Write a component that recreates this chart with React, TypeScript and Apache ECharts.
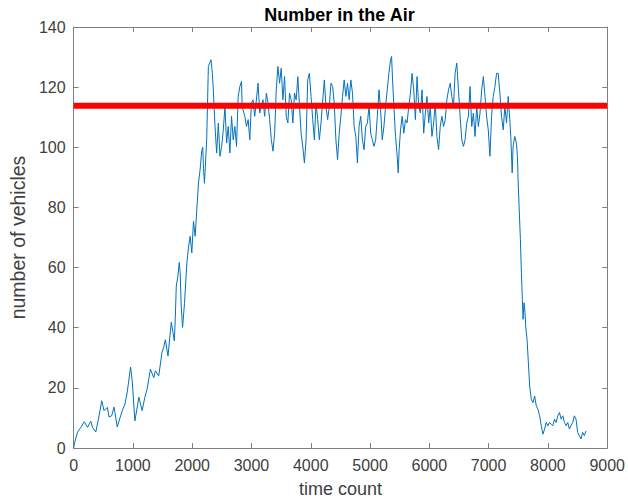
import React, { useEffect, useRef } from "react";
import * as echarts from "echarts";

// Simulation log: aircraft airborne at each time count
const timeCount = [
  0, 20, 67, 123, 179, 235, 290, 318, 374, 419, 475, 514, 570, 598, 642, 682, 737, 776, 821, 866,
  905, 961, 990, 1034, 1101, 1156, 1201, 1240, 1296, 1352, 1380, 1436, 1491, 1520, 1547, 1592, 1648, 1680, 1699, 1715,
  1732, 1760, 1782, 1798, 1815, 1838, 1870, 1911, 1940, 1966, 1994, 2022, 2050, 2078, 2106, 2134, 2162, 2179, 2190, 2207,
  2218, 2245, 2273, 2318, 2340, 2357, 2385, 2413, 2441, 2469, 2497, 2525, 2553, 2581, 2608, 2636, 2664, 2692, 2720, 2748,
  2776, 2804, 2832, 2843, 2888, 2916, 2944, 2972, 2999, 3027, 3055, 3111, 3139, 3167, 3195, 3223, 3251, 3279, 3307, 3335,
  3363, 3391, 3418, 3446, 3474, 3502, 3530, 3558, 3586, 3614, 3642, 3670, 3698, 3726, 3754, 3782, 3810, 3837, 3865, 3893,
  3921, 3949, 3977, 4005, 4033, 4061, 4089, 4117, 4145, 4173, 4229, 4257, 4285, 4313, 4341, 4369, 4396, 4424, 4452, 4480,
  4508, 4536, 4564, 4592, 4620, 4648, 4676, 4704, 4732, 4760, 4787, 4815, 4843, 4871, 4899, 4927, 4955, 4983, 5011, 5039,
  5067, 5095, 5123, 5151, 5178, 5206, 5234, 5262, 5290, 5318, 5346, 5363, 5380, 5402, 5430, 5458, 5475, 5491, 5514, 5542,
  5570, 5597, 5625, 5653, 5681, 5709, 5737, 5765, 5793, 5821, 5849, 5877, 5905, 5933, 5961, 5989, 6016, 6044, 6072, 6100,
  6128, 6156, 6184, 6212, 6240, 6268, 6296, 6324, 6352, 6379, 6407, 6435, 6463, 6491, 6519, 6547, 6575, 6603, 6631, 6659,
  6687, 6715, 6743, 6771, 6799, 6827, 6855, 6883, 6911, 6939, 6966, 6994, 7022, 7050, 7078, 7106, 7134, 7162, 7190, 7218,
  7246, 7274, 7302, 7330, 7357, 7374, 7397, 7413, 7441, 7469, 7486, 7497, 7514, 7536, 7553, 7569, 7581, 7597, 7614, 7625,
  7648, 7664, 7692, 7720, 7748, 7776, 7804, 7832, 7860, 7888, 7916, 7944, 7972, 8000, 8027, 8055, 8083, 8111, 8139, 8167,
  8195, 8223, 8251, 8279, 8307, 8334, 8362, 8390, 8418, 8446, 8474, 8502, 8530, 8558, 8586, 8614, 8642,
];

const vehiclesInAir = [
  0, 2, 5.3, 6.9, 8.7, 6.9, 8.9, 6.9, 5.3, 9.6, 15.7, 12.4, 13.5, 10.3, 10.7, 13.6, 7, 9.6, 12.4, 14.6,
  18.6, 26.9, 22, 9, 16.9, 12.4, 16.8, 19.6, 26.2, 23.4, 25.7, 24, 31.8, 33.5, 36, 30.6, 41.8, 38, 35.6, 43,
  53.9, 57.2, 61.7, 58.3, 47.2, 40.1, 48, 61.7, 67.1, 70.4, 64.9, 75.4, 70.4, 79.3, 88.1, 92.6, 99, 100, 93, 88,
  92, 102.5, 126.9, 129.1, 124.6, 119.1, 106.9, 98.1, 108, 97, 100.3, 105.8, 113.6, 101.4, 106.9, 98.1, 110.3, 102.5, 106.9, 100.3,
  116.9, 120.2, 121.9, 113.6, 110.3, 106.9, 109.2, 102.5, 114.7, 115.8, 110.3, 121.3, 111.4, 113.6, 115.8, 110.3, 118, 114.7, 109.2, 102.5,
  98.7, 104.7, 119.1, 126.9, 121.3, 126.3, 115.8, 123.5, 110.3, 108.1, 118, 115.8, 108.1, 118, 115.8, 123.5, 113.6, 104.7, 100.3, 94.8,
  102.5, 122.4, 124.6, 116.9, 109.2, 102.5, 114.7, 109.2, 102.5, 108.1, 122.4, 113.6, 109.2, 113.6, 121.3, 120.2, 114.7, 102.5, 95.9, 104.7,
  110.3, 116.9, 122.4, 116.9, 121.3, 115.8, 122.4, 118, 106.9, 103.6, 94.8, 106.9, 110.3, 102.5, 99.2, 106.9, 108.1, 113.6, 104.7, 102.5,
  100.3, 102.5, 110.3, 119.1, 112.5, 102.5, 106.9, 113.6, 119.1, 124.6, 129.1, 130.2, 122.4, 113.6, 103.6, 97, 91.5, 99.2, 105.8, 110.3,
  104.7, 109.2, 108.1, 113.6, 118, 124.6, 119.1, 109.2, 123.5, 113.6, 111.4, 119.1, 104.7, 111.4, 116.9, 108.1, 113.6, 103.6, 108.1, 114.7,
  103.6, 99.2, 106.9, 110.3, 106.9, 109.2, 115.8, 119.1, 121.3, 116.9, 113.6, 124.6, 128, 119.1, 110.3, 102.5, 100.3, 102.5, 108.1, 110.3,
  120.2, 106.9, 111.4, 103.6, 113.6, 106.9, 111.4, 119.1, 123.5, 116.9, 110.3, 105.8, 97, 110.3, 116.9, 120.2, 124.6, 124.6, 118, 110.3,
  105.8, 113.6, 108.1, 116.9, 109.2, 103.6, 91.5, 100.3, 103.6, 101.4, 97, 89.3, 80.4, 69.3, 58.3, 49.4, 42.8, 48.3, 45, 40.6,
  36.1, 30.6, 20.7, 16.2, 15.1, 17.3, 14, 12.9, 10.7, 7.4, 4.6, 6.3, 8.5, 7.4, 8.5, 7.9, 7.4, 9.6, 8.5, 10.7,
  11.8, 9.6, 10.7, 8.5, 7.4, 8.5, 6.3, 7.4, 8.5, 10.7, 9.6, 5.2, 4.1, 3, 5.2, 4.1, 5.7,
];

// Airspace capacity level drawn as the thick horizontal line
const capacityLevel = 113.8;

const xTicks = { min: 0, max: 9000, interval: 1000 };
const yTicks = { min: 0, max: 140, interval: 20 };

const axisColor = "#808080";
const labelColor = "#404040";
const fontFamily = "'Liberation Sans', Arial, Helvetica, sans-serif";

export default function App() {
  const ref = useRef<HTMLDivElement>(null);

  useEffect(() => {
    document.body.style.margin = "0";
    if (!ref.current) return;
    const chart = echarts.init(ref.current, null, { renderer: "svg" });

    const trace = timeCount.map((t, i) => [t, vehiclesInAir[i]]);

    const boxAxis = {
      axisLine: { show: true, onZero: false, lineStyle: { color: axisColor, width: 1 } },
      axisTick: { show: true, inside: true, length: 5, lineStyle: { color: axisColor } },
      splitLine: { show: false },
    };

    chart.setOption({
      animation: false,
      backgroundColor: "#ffffff",
      textStyle: { fontFamily },
      grid: { left: 71, right: 20, top: 27, bottom: 54, containLabel: false },
      graphic: [
        {
          type: "text",
          x: 339.5,
          y: 15,
          style: {
            text: "Number in the Air",
            fill: "#000000",
            font: `bold 18px ${fontFamily}`,
            textAlign: "center",
            textVerticalAlign: "middle",
          },
        },
      ],
      xAxis: [
        {
          type: "value",
          position: "bottom",
          ...xTicks,
          ...boxAxis,
          axisLabel: {
            color: labelColor,
            fontSize: 16,
            margin: 9,
            fontFamily,
            formatter: (v: number) => String(v),
          },
          name: "time count",
          nameLocation: "middle",
          nameGap: 32,
          nameTextStyle: { color: labelColor, fontSize: 18, fontFamily },
        },
        {
          type: "value",
          position: "top",
          ...xTicks,
          ...boxAxis,
          axisLabel: { show: false },
        },
      ],
      yAxis: [
        {
          type: "value",
          position: "left",
          ...yTicks,
          ...boxAxis,
          axisLabel: {
            color: labelColor,
            fontSize: 16,
            margin: 8,
            fontFamily,
            formatter: (v: number) => String(v),
          },
          name: "number of vehicles",
          nameLocation: "middle",
          nameGap: 39,
          nameTextStyle: { color: labelColor, fontSize: 19.5, fontFamily },
        },
        {
          type: "value",
          position: "right",
          ...yTicks,
          ...boxAxis,
          axisLabel: { show: false },
        },
      ],
      series: [
        {
          type: "line",
          data: trace,
          showSymbol: false,
          symbol: "none",
          lineStyle: { color: "#0072BD", width: 1 },
          z: 2,
        },
        {
          type: "line",
          data: [
            [xTicks.min, capacityLevel],
            [xTicks.max, capacityLevel],
          ],
          showSymbol: false,
          symbol: "none",
          lineStyle: { color: "#FF0000", width: 6, cap: "butt" },
          z: 3,
        },
      ],
    });

    return () => chart.dispose();
  }, []);

  return <div ref={ref} style={{ width: 628, height: 503 }} />;
}
